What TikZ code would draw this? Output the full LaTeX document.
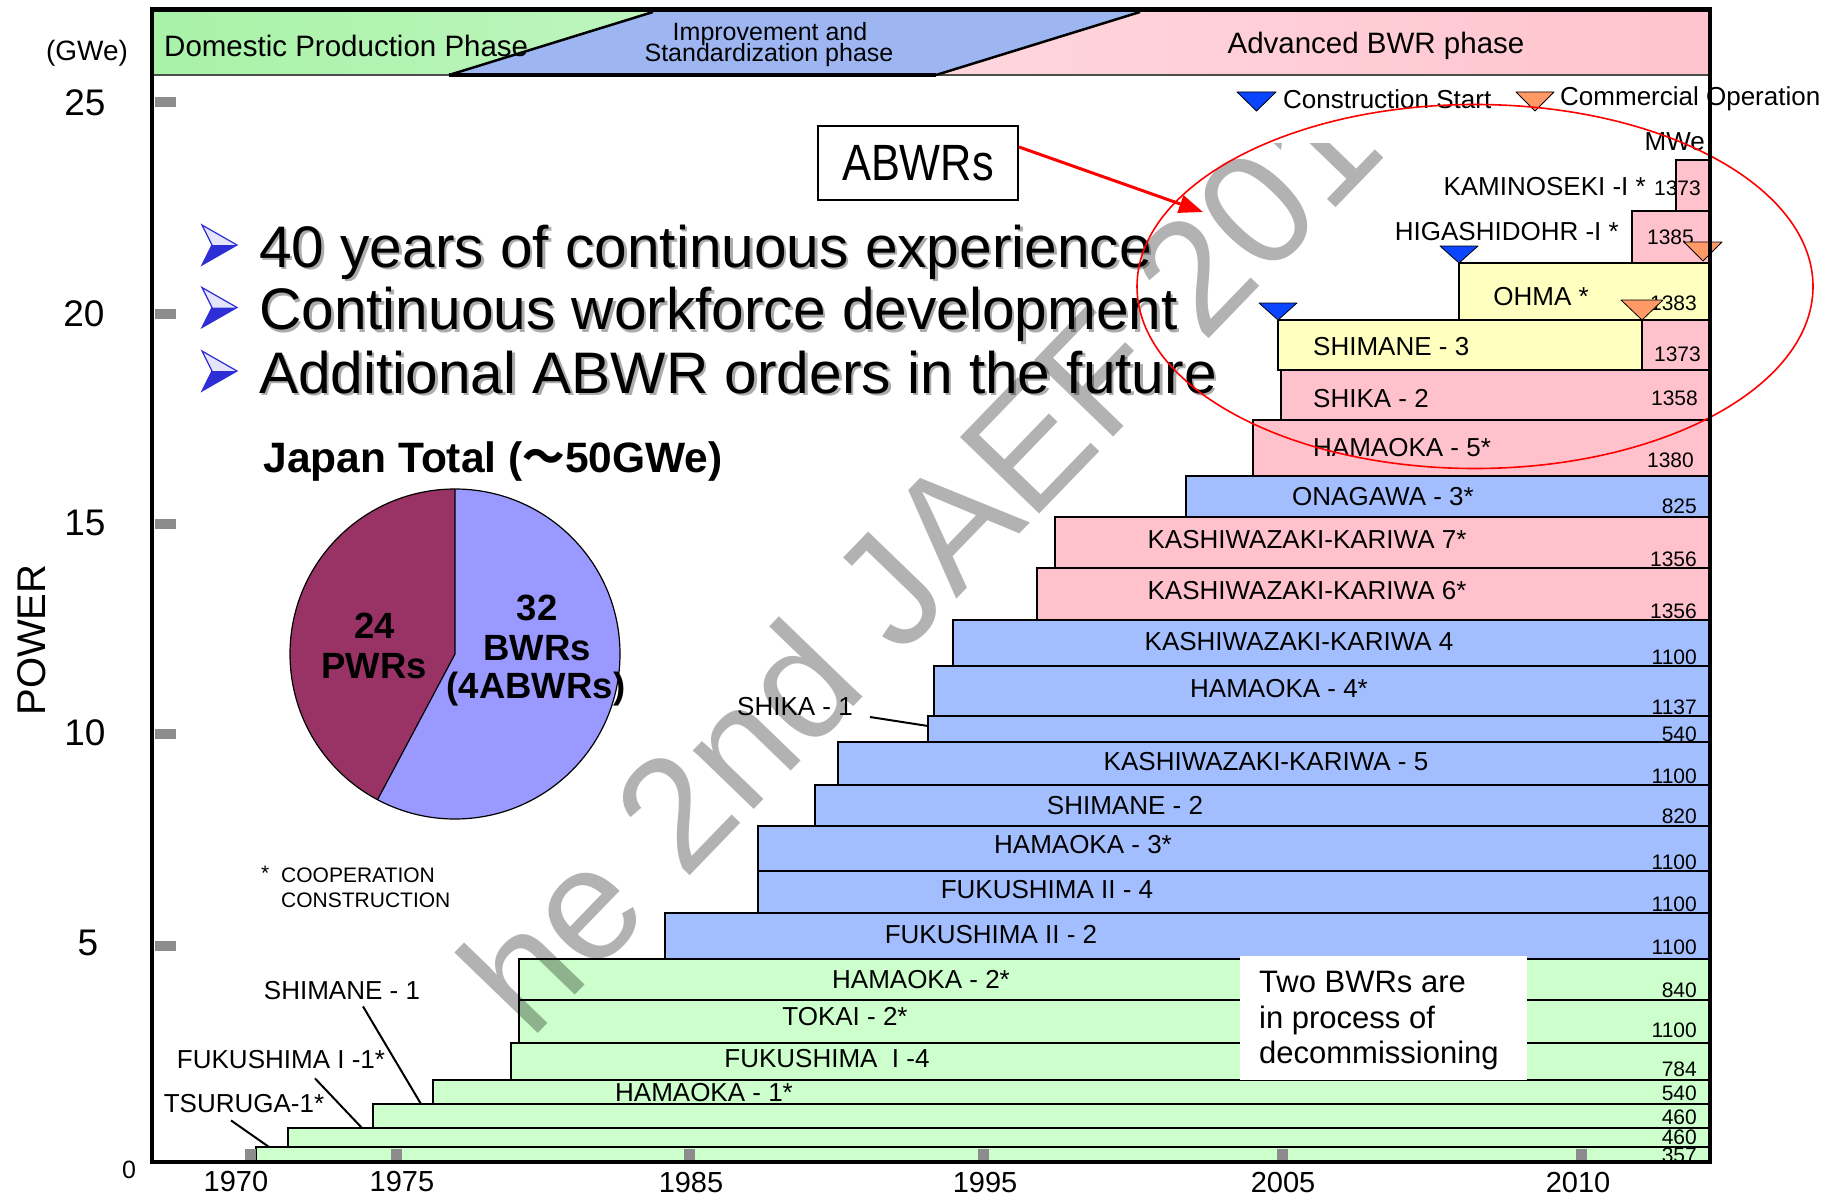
\documentclass[tikz,border=0pt]{standalone}
\usepackage{fontspec}
\usepackage{graphicx}
\setmainfont{Liberation Sans}
\newfontfamily\cjkfont{Noto Sans CJK JP}
\usetikzlibrary{arrows.meta}
\definecolor{barGreen}{HTML}{CCFFCC}
\definecolor{barBlue}{HTML}{A3BEFF}
\definecolor{barPink}{HTML}{FFC2CC}
\definecolor{barYellow}{HTML}{FFFFBF}
\definecolor{pwrCol}{HTML}{993366}
\definecolor{bwrCol}{HTML}{9999FF}
\definecolor{triBlue}{HTML}{0A46FF}
\definecolor{triOrange}{HTML}{FF9966}
\definecolor{tickGray}{HTML}{8C8C8C}
\definecolor{bandGreen}{HTML}{A8F2A8}
\definecolor{bandBlue}{HTML}{9DB6F2}
\definecolor{bandPink}{HTML}{FFC4CE}
\definecolor{bulBlue}{HTML}{2E2ED6}
\definecolor{bulLight}{HTML}{E4E4FA}
\definecolor{shadowGray}{HTML}{ACACAC}
\newcommand{\fsz}[1]{\fontsize{#1}{#1}\selectfont}
\begin{document}
\begin{tikzpicture}[x=1pt,y=-1pt,
  bar/.style={draw=black,line width=2.4pt},
  lbl/.style={font=\fsz{26},inner sep=0pt},
  num/.style={font=\fsz{21},inner sep=0pt,anchor=east},
  tk/.style={fill=tickGray},
  lead/.style={draw=black,line width=2pt},
  mk/.style={draw=black,line width=0.8pt,line join=round},
  axlbl/.style={font=\fsz{37},inner sep=0pt},
  yrlbl/.style={font=\fsz{29},inner sep=0pt},
  bandtxt/.style={inner sep=0pt},
  bul/.style={font=\fsz{58.6},inner sep=0pt,anchor=base west},
  bulsh/.style={font=\fsz{58.6},inner sep=0pt,anchor=base west,text=shadowGray},
  pielbl/.style={font=\bfseries\fsz{36.5},inner sep=0pt,anchor=base}]
\useasboundingbox (0,0) rectangle (1842,1196);
\fill[white] (0,0) rectangle (1842,1196);

% ---------------- bars ----------------
\draw[bar,fill=barGreen] (256,1147) rectangle (1710,1161);
\draw[bar,fill=barGreen] (288,1128) rectangle (1710,1147);
\draw[bar,fill=barGreen] (373,1104) rectangle (1710,1128);
\draw[bar,fill=barGreen] (433,1080) rectangle (1710,1104);
\draw[bar,fill=barGreen] (511,1043) rectangle (1710,1080);
\draw[bar,fill=barGreen] (519,1000) rectangle (1710,1043);
\draw[bar,fill=barGreen] (519,959) rectangle (1710,1000);
\draw[bar,fill=barBlue] (665,913) rectangle (1710,959);
\draw[bar,fill=barBlue] (758,871) rectangle (1710,913);
\draw[bar,fill=barBlue] (758,826) rectangle (1710,871);
\draw[bar,fill=barBlue] (815,785) rectangle (1710,826);
\draw[bar,fill=barBlue] (838,742) rectangle (1710,785);
\draw[bar,fill=barBlue] (928,716) rectangle (1710,742);
\draw[bar,fill=barBlue] (934,666) rectangle (1710,716);
\draw[bar,fill=barBlue] (953,620) rectangle (1710,666);
\draw[bar,fill=barPink] (1037,568) rectangle (1710,620);
\draw[bar,fill=barPink] (1055,517) rectangle (1710,568);
\draw[bar,fill=barBlue] (1186,476) rectangle (1710,517);
\draw[bar,fill=barPink] (1253,420) rectangle (1710,476);
\draw[bar,fill=barPink] (1281,370) rectangle (1710,420);
\draw[bar,fill=barYellow] (1278,320) rectangle (1642,370);
\draw[bar,fill=barPink] (1642,320) rectangle (1710,370);
\draw[bar,fill=barYellow] (1459,263) rectangle (1710,320);
\draw[bar,fill=barPink] (1632,211) rectangle (1710,263);
\draw[bar,fill=barPink] (1676,160) rectangle (1710,211);

% ---------------- bar labels ----------------
\node[lbl] (b4l) at (704,1093) {HAMAOKA - 1*};
\node[lbl] (b5l) at (827,1059) {FUKUSHIMA\ \ I -4};
\node[lbl] (b6l) at (845,1017) {TOKAI - 2*};
\node[lbl] (b7l) at (921,980) {HAMAOKA - 2*};
\node[lbl] (b8l) at (991,935) {FUKUSHIMA II - 2};
\node[lbl] (b9l) at (1047,890) {FUKUSHIMA II - 4};
\node[lbl] (b10l) at (1083,845) {HAMAOKA - 3*};
\node[lbl] (b11l) at (1125,806) {SHIMANE - 2};
\node[lbl] (b12l) at (1266,762) {KASHIWAZAKI-KARIWA - 5};
\node[lbl] (b14l) at (1279,689) {HAMAOKA - 4*};
\node[lbl] (b15l) at (1299,642) {KASHIWAZAKI-KARIWA 4};
\node[lbl] (b16l) at (1307,591) {KASHIWAZAKI-KARIWA 6*};
\node[lbl] (b17l) at (1307,540) {KASHIWAZAKI-KARIWA 7*};
\node[lbl] (b18l) at (1383,497) {ONAGAWA - 3*};
\node[lbl,anchor=west] (b19l) at (1313,448) {HAMAOKA - 5*};
\node[lbl,anchor=west] (b20l) at (1313,399) {SHIKA - 2};
\node[lbl,anchor=west] (b21l) at (1313,347) {SHIMANE - 3};
\node[lbl] (b22l) at (1541,297) {OHMA *};
\node[lbl,anchor=east] (b23l) at (1619,232) {HIGASHIDOHR -I *};
\node[lbl,anchor=east] (b24l) at (1646,187) {KAMINOSEKI -I *};

% ---------------- MWe numbers ----------------
\node[font=\fsz{26},inner sep=0pt,anchor=east] (mwe) at (1705,142) {MWe};
\node[num] (n1) at (1697,1155) {357};
\node[num] (n2) at (1697,1137) {460};
\node[num] (n3) at (1697,1117) {460};
\node[num] (n4) at (1697,1093) {540};
\node[num] (n5) at (1697,1069) {784};
\node[num] (n6) at (1697,1030) {1100};
\node[num] (n7) at (1697,990) {840};
\node[num] (n8) at (1697,947) {1100};
\node[num] (n9) at (1697,904) {1100};
\node[num] (n10) at (1697,862) {1100};
\node[num] (n11) at (1697,816) {820};
\node[num] (n12) at (1697,776) {1100};
\node[num] (n13) at (1697,734) {540};
\node[num] (n14) at (1697,707) {1137};
\node[num] (n15) at (1697,657) {1100};
\node[num] (n16) at (1697,611) {1356};
\node[num] (n17) at (1697,559) {1356};
\node[num] (n18) at (1697,506) {825};
\node[num] (n19) at (1694,460) {1380};
\node[num] (n20) at (1698,398) {1358};
\node[num] (n21) at (1701,354) {1373};
\node[num] (n22) at (1697,303) {1383};
\node[num] (n23) at (1694,237) {1385};
\node[num] (n24) at (1701,188) {1373};

% ---------------- decommissioning box ----------------
\fill[white] (1240,956) rectangle (1527,1080);
\node[font=\fontsize{31}{35.5}\selectfont,align=left,anchor=north west,inner sep=0pt] (decom) at (1259,971) {Two BWRs are\\in process of\\decommissioning};

% ---------------- pie ----------------
\begin{scope}[shift={(455,654)},y=1pt]
  \fill[pwrCol] (0,0) -- (90:165) arc[start angle=90,end angle=242,radius=165] -- cycle;
  \fill[bwrCol] (0,0) -- (242:165) arc[start angle=242,end angle=450,radius=165] -- cycle;
  \draw[line width=1.2pt] (0,0) circle[radius=165];
  \draw[line width=1.2pt] (90:165) -- (0,0) -- (242:165);
\end{scope}
\node[pielbl] (p24) at (375,638) {24};
\node[pielbl] (pPWR) at (374,678) {PWRs};
\node[pielbl] (p32) at (537,620) {32};
\node[pielbl] (pBWR) at (537,660) {BWRs};
\node[pielbl] (pABWR) at (536,698) {(4ABWRs)};
\node[font=\bfseries\fsz{42.5},inner sep=0pt,anchor=base] (title) at (493,472) {Japan Total ({\cjkfont\bfseries ～}50GWe)};

\node[font=\fsz{21},inner sep=0pt,anchor=west] (coopS) at (261,873) {*};
\node[font=\fsz{21},inner sep=0pt,anchor=west] (coop1) at (281,875) {COOPERATION};
\node[font=\fsz{21},inner sep=0pt,anchor=west] (coop2) at (281,900) {CONSTRUCTION};

% ---------------- bullets ----------------
\foreach \dy/\txt [count=\i] in {0/{40 years of continuous experience},62.5/{Continuous workforce development},126/{Additional ABWR orders in the future}}{
  \begin{scope}[yshift=-\dy pt]
    \fill[bulLight] (202,225) -- (237,245) -- (212,245) -- cycle;
    \fill[bulBlue] (212,245) -- (237,245) -- (202,265) -- cycle;
    \draw[bulBlue,line width=1.2pt,line join=miter] (202,225) -- (237,245) -- (202,265) -- (212,245) -- cycle;
    \node[bulsh] at (261.5,269.5) {\txt};
    \node[bul] (bul\i) at (259,267) {\txt};
  \end{scope}
}

% ---------------- watermark ----------------
\node[font=\fsz{160},text=black,text opacity=0.3,rotate=46,anchor=base west,inner sep=0pt] (wm) at (530,1041.5) {he 2nd JAEF 201};
\fill[white] (1230,78) rectangle (1600,143);

% legend
\draw[mk,fill=triBlue] (1237,92) -- (1276,92) -- (1256.5,111) -- cycle;
\node[font=\fsz{26},inner sep=0pt,anchor=west] (legCS) at (1283,99) {Construction Start};
\draw[mk,fill=triOrange] (1516,92) -- (1554,92) -- (1535,111) -- cycle;
\node[font=\fsz{26},inner sep=0pt,anchor=west] (legCO) at (1560,99) {Commercial Operation};

% ---------------- markers ----------------
\draw[mk,fill=triBlue] (1440,246) -- (1478,246) -- (1459,263) -- cycle;
\draw[mk,fill=triBlue] (1259,303) -- (1297,303) -- (1278,320) -- cycle;
\draw[mk,fill=triOrange] (1684,242) -- (1722,242) -- (1703,261) -- cycle;
\draw[mk,fill=triOrange] (1621,300) -- (1663,300) -- (1642,320) -- cycle;

% ---------------- ABWRs box, arrow, ellipse ----------------
\node[draw=black,line width=2pt,minimum width=200pt,minimum height=74pt,inner sep=0pt,font=\fsz{51},fill=white] (abwr) at (918,163) {\scalebox{0.85}[1]{ABWRs}};
\coordinate (arrEnd) at (1203,212);
\draw[red,line width=3pt,-{Triangle[length=24pt,width=18pt]}] ([yshift=16pt]abwr.east) -- (arrEnd);
\draw[red,line width=1.6pt] (1475,286.5) ellipse[x radius=338,y radius=182];

% ---------------- left labels with leaders ----------------
\node[lbl] (lShim1) at (342,991) {SHIMANE - 1};
\node[lbl] (lFuku1) at (281,1060) {FUKUSHIMA I -1*};
\node[lbl] (lTsur1) at (244,1104) {TSURUGA-1*};
\node[lbl] (lShika1) at (795,707) {SHIKA - 1};
\coordinate (eShim1) at (421,1104);
\coordinate (eFuku1) at (362,1128);
\coordinate (eTsur1) at (269,1147);
\coordinate (eShika1) at (928,726);
\draw[lead] ([xshift=21pt,yshift=-6pt]lShim1.south) -- (eShim1);
\draw[lead] ([xshift=34pt,yshift=-9pt]lFuku1.south) -- (eFuku1);
\draw[lead] ([xshift=-13pt,yshift=-7pt]lTsur1.south) -- (eTsur1);
\draw[lead] ([xshift=17pt,yshift=-10pt]lShika1.east) -- (eShika1);

% ---------------- phase band ----------------
\shade[left color=bandGreen,middle color=white,right color=bandGreen!75] (152,12) -- (653,12) -- (449,75) -- (152,75) -- cycle;
\shade[left color=bandBlue,middle color=white,right color=bandBlue] (653,12) -- (1140,12) -- (936,75) -- (449,75) -- cycle;
\shade[left color=bandPink!70,middle color=white,right color=bandPink] (1140,12) -- (1710,12) -- (1710,75) -- (936,75) -- cycle;
\draw[line width=1.2pt,black!70] (152,75) -- (1710,75);
\draw[line width=4pt] (449,75) -- (936,75);
\draw[line width=2.5pt] (449,75) -- (653,12);
\draw[line width=2.5pt] (936,75) -- (1140,12);
\node[bandtxt,font=\fsz{29.5},anchor=west] (ph1) at (164,46) {Domestic Production Phase};
\node[bandtxt,font=\fsz{25}] (ph2a) at (770,34) {Improvement and};
\node[bandtxt,font=\fsz{25}] (ph2b) at (769,55) {Standardization phase};
\node[bandtxt,font=\fsz{29.5}] (ph3) at (1376,46) {Advanced BWR phase};

% ---------------- frame ----------------
\draw[line width=5pt] (150,10) -- (1712,10);
\draw[line width=4.5pt] (152,8) -- (152,1164);
\draw[line width=4.5pt] (150,1162) -- (1712,1162);
\draw[line width=4pt] (1710,8) -- (1710,1164);

% ---------------- ticks ----------------
\foreach \yy in {102,314,524,734,946} {\fill[tk] (155,\yy-5) rectangle (176,\yy+5);}
\foreach \xx in {245,391,684,978,1277,1576} {\fill[tk] (\xx,1149) rectangle (\xx+11,1160);}

% ---------------- axis labels ----------------
\node[axlbl] (y25) at (85,103) {25};
\node[axlbl] (y20) at (84,314) {20};
\node[axlbl] (y15) at (85,523) {15};
\node[axlbl] (y10) at (85,733) {10};
\node[axlbl] (y5) at (88,943) {5};
\node[font=\fsz{25},inner sep=0pt] (y0) at (129,1170) {0};
\node[font=\fsz{28},inner sep=0pt] (gwe) at (87,53) {(GWe)};
\node[font=\fsz{40},inner sep=0pt,rotate=90] (power) at (32,640) {POWER};
\node[yrlbl] (x1970) at (236,1182) {1970};
\node[yrlbl] (x1975) at (402,1182) {1975};
\node[yrlbl] (x1985) at (691,1183) {1985};
\node[yrlbl] (x1995) at (985,1183) {1995};
\node[yrlbl] (x2005) at (1283,1183) {2005};
\node[yrlbl] (x2010) at (1578,1183) {2010};
\end{tikzpicture}
\end{document}
